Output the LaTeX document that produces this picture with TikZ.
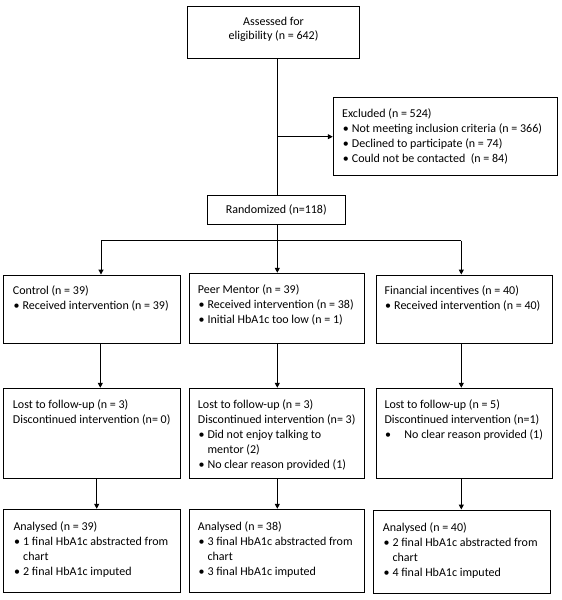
\documentclass[tikz,border=0pt]{standalone}
\usepackage{fontspec}
\setmainfont{Carlito}
\usetikzlibrary{arrows.meta,calc}
\newcommand\bul[1]{\makebox[9.7pt][l]{\hspace{0.6pt}\textbullet}#1}
\newcommand\bulw[1]{\makebox[20pt][l]{\hspace{0.6pt}\textbullet}#1}
\newcommand\cont[1]{\makebox[9.7pt][l]{}#1}
\begin{document}
\begin{tikzpicture}[x=1pt,y=-1pt,
  box/.style={draw=black, line width=1pt, rectangle, inner sep=0pt},
  txt/.style={anchor=north west, inner sep=0pt, align=left, font=\fontsize{12}{15}\selectfont},
  ctxt/.style={inner sep=0pt, align=center, font=\fontsize{12}{14.2}\selectfont},
  conn/.style={line width=1pt},
  arr/.style={line width=1pt, -{Triangle[length=5pt,width=5pt]}}]
\useasboundingbox (0,0) rectangle (562,600);
% boxes
\node[box, minimum width=171.6pt, minimum height=52.3pt] (assess) at (273.5,32.2) {};
\node[box, minimum width=224.4pt, minimum height=78pt] (excl) at (445.5,136.7) {};
\node[box, minimum width=138pt, minimum height=29pt, font=\fontsize{12}{15}\selectfont] (rand) at (276.3,209.5) {Randomized (n=118)};
\node[box, minimum width=177pt, minimum height=68.3pt] (ctrl) at (91.8,309.2) {};
\node[box, minimum width=175.3pt, minimum height=70pt] (peer) at (276.7,308.3) {};
\node[box, minimum width=176pt, minimum height=68.3pt] (fin) at (464,309.2) {};
\node[box, minimum width=177pt, minimum height=90pt] (ctrlL) at (91.8,433.3) {};
\node[box, minimum width=175.3pt, minimum height=90pt] (peerL) at (276.7,433.3) {};
\node[box, minimum width=176pt, minimum height=90pt] (finL) at (464,433.3) {};
\node[box, minimum width=177pt, minimum height=83.4pt] (ctrlA) at (91.8,551) {};
\node[box, minimum width=175.3pt, minimum height=83.4pt] (peerA) at (276.7,551) {};
\node[box, minimum width=176.6pt, minimum height=83.3pt] (finA) at (462,551.7) {};
% texts
\node[ctxt] (assessT) at (273.5,29.7) {Assessed for\\eligibility (n = 642)};
\node[txt] (exclT) at (342,108.9) {Excluded (n = 524)\\\bul{Not meeting inclusion criteria (n = 366)}\\\bul{Declined to participate (n = 74)}\\\bul{Could not be contacted\ \ (n = 84)}};
\node[txt] (ctrlT) at (12.7,285.9) {Control (n = 39)\\\bul{Received intervention (n = 39)}};
\node[txt] (peerT) at (197.7,284.5) {Peer Mentor (n = 39)\\\bul{Received intervention (n = 38)}\\\bul{Initial HbA1c too low (n = 1)}};
\node[txt] (finT) at (384.3,285.9) {Financial incentives (n = 40)\\\bul{Received intervention (n = 40)}};
\node[txt] (ctrlLT) at (12.7,399.2) {Lost to follow-up (n = 3)\\Discontinued intervention (n= 0)};
\node[txt] (peerLT) at (197.7,399.2) {Lost to follow-up (n = 3)\\Discontinued intervention (n= 3)\\\bul{Did not enjoy talking to}\\\cont{mentor (2)}\\\bul{No clear reason provided (1)}};
\node[txt] (finLT) at (384.3,399.2) {Lost to follow-up (n = 5)\\Discontinued intervention (n=1)\\\bulw{No clear reason provided (1)}};
\node[txt] (ctrlAT) at (13.3,521.2) {Analysed (n = 39)\\\bul{1 final HbA1c abstracted from}\\\cont{chart}\\\bul{2 final HbA1c imputed}};
\node[txt] (peerAT) at (197.7,521.2) {Analysed (n = 38)\\\bul{3 final HbA1c abstracted from}\\\cont{chart}\\\bul{3 final HbA1c imputed}};
\node[txt] (finAT) at (382.7,522.9) {Analysed (n = 40)\\\bul{2 final HbA1c abstracted from}\\\cont{chart}\\\bul{4 final HbA1c imputed}};
% coordinates
\coordinate (split) at (277.3,240.7);
\coordinate (hl) at (101,240.7);
\coordinate (hr) at (461.3,240.7);
\coordinate (xm) at (277.3,0);
\coordinate (x1m) at (100.3,0);
\coordinate (x1b) at (96.7,0);
% connectors
\draw[conn] (assess.south -| xm) -- (rand.north -| xm);
\draw[arr] (excl.west -| xm) -- (excl.west);
\draw[conn] (rand.south -| xm) -- (split);
\draw[conn] (hl) -- (hr);
\draw[arr] (hl) -- (hl |- ctrl.north);
\draw[arr] (split) -- (split |- peer.north);
\draw[arr] (hr) -- (hr |- fin.north);
\draw[arr] (ctrl.south -| x1m) -- (ctrlL.north -| x1m);
\draw[arr] (peer.south -| xm) -- (peerL.north -| xm);
\draw[arr] (fin.south -| hr) -- (finL.north -| hr);
\draw[arr] (ctrlL.south -| x1b) -- (ctrlA.north -| x1b);
\draw[arr] (peerL.south -| xm) -- (peerA.north -| xm);
\draw[arr] (finL.south -| hr) -- (finA.north -| hr);
\end{tikzpicture}
\end{document}
